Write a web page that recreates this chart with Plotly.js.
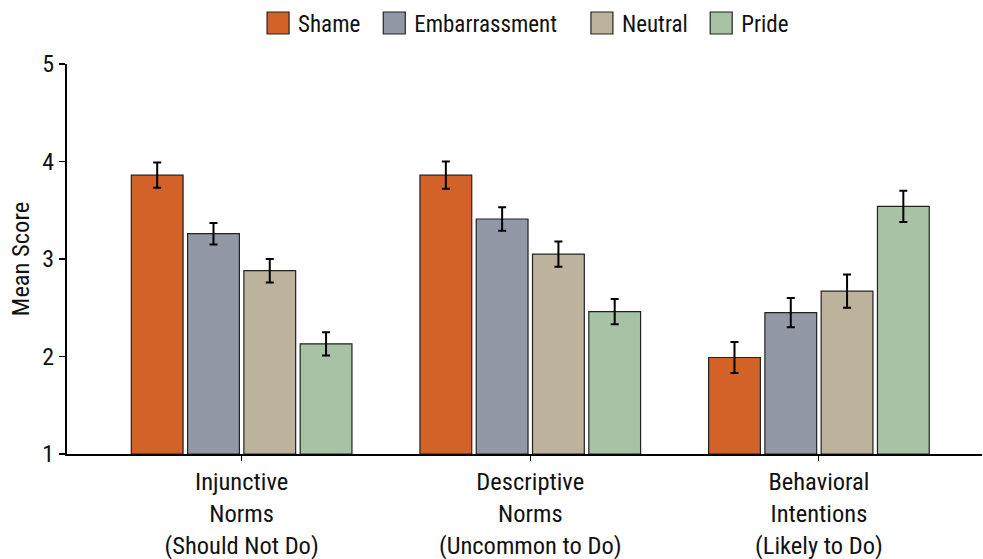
<!DOCTYPE html>
<html>
<head>
<meta charset="utf-8">
<script src="https://cdn.plot.ly/plotly-3.0.1.min.js"></script>
<style>
html,body{margin:0;padding:0;background:#fff;}
#chart{width:983px;height:559px;}
#chart text{font-stretch:75% !important;}
</style>
</head>
<body>
<div id="chart"></div>
<script>
const categories = ["Injunctive<br>Norms<br>(Should Not Do)", "Descriptive<br>Norms<br>(Uncommon to Do)", "Behavioral<br>Intentions<br>(Likely to Do)"];
const seriesNames = ["Shame", "Embarrassment", "Neutral", "Pride"];
const shame = [3.86, 3.86, 1.99];
const embarrassment = [3.26, 3.41, 2.45];
const neutral = [2.88, 3.05, 2.67];
const pride = [2.13, 2.46, 3.54];
const shameErr = [0.13, 0.14, 0.16];
const embarrassmentErr = [0.11, 0.12, 0.15];
const neutralErr = [0.12, 0.13, 0.17];
const prideErr = [0.12, 0.13, 0.16];
const yTicks = [1, 2, 3, 4, 5];
const colors = ["#D26228", "#9298A5", "#BDB29B", "#A8C2A5"];

const FONT = "Roboto, 'Liberation Sans', Arial, sans-serif";
const values = [shame, embarrassment, neutral, pride];
const errs = [shameErr, embarrassmentErr, neutralErr, prideErr];
const xIdx = [0, 1, 2];
const BASE = 1;

const traces = seriesNames.map((name, i) => ({
  type: "bar",
  name: name,
  x: xIdx,
  y: values[i].map(v => v - BASE),
  base: BASE,
  marker: {color: colors[i], line: {color: "#222", width: 1.2}},
  error_y: {type: "data", array: errs[i], visible: true, color: "#000", thickness: 2, width: 4},
}));

const layout = {
  width: 983, height: 559,
  margin: {l: 67, r: 1, t: 61, b: 105},
  paper_bgcolor: "#fff", plot_bgcolor: "#fff",
  font: {family: FONT, color: "#111", size: 20},
  barmode: "group",
  bargap: 0.22,
  bargroupgap: 0.08,
  showlegend: true,
  legend: {orientation: "h", x: 0.505, xanchor: "center", y: 1.105, yanchor: "middle",
           font: {family: FONT, size: 23, color: "#111"}, traceorder: "normal"},
  xaxis: {
    range: [-0.605, 2.565],
    tickvals: xIdx, ticktext: categories,
    showline: true, linecolor: "#000", linewidth: 2,
    ticks: "outside", ticklen: 5, tickcolor: "#000", tickwidth: 1,
    showgrid: false, zeroline: false,
    tickfont: {family: FONT, size: 24.5, color: "#111"},
  },
  yaxis: {
    range: [1, 5],
    tickvals: yTicks,
    showline: true, linecolor: "#000", linewidth: 2,
    ticks: "outside", ticklen: 6, tickcolor: "#000", tickwidth: 1.5,
    showgrid: false, zeroline: false,
    tickfont: {family: FONT, size: 24, color: "#111"},
    title: {text: "Mean Score", font: {family: FONT, size: 24.5, color: "#111"}, standoff: 4},
  },
};

Plotly.newPlot("chart", traces, layout, {displayModeBar: false, staticPlot: true}).then(gd => {
  gd.querySelectorAll(".legendpoints path").forEach(p => {
    p.setAttribute("d", "M-11,-11h22v22h-22z");
    p.style.strokeWidth = "1.2px";
    p.style.stroke = "#222";
  });
});
</script>
</body>
</html>
